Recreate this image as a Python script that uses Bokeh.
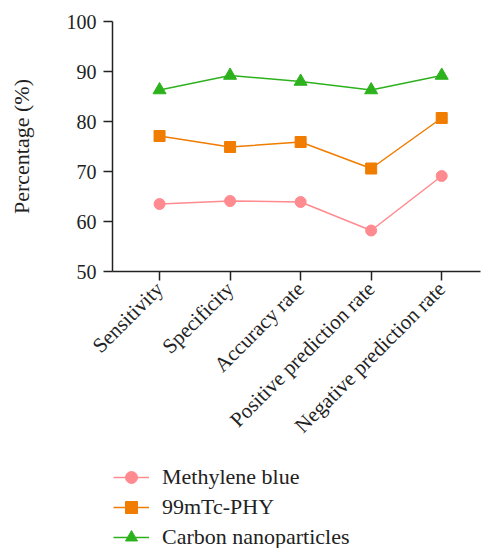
import math
from bokeh.plotting import figure
from bokeh.layouts import column
from bokeh.models import Range1d, FixedTicker, Legend, LegendItem
from bokeh.embed import file_html
from bokeh.resources import INLINE

categories = ["Sensitivity", "Specificity", "Accuracy rate",
              "Positive prediction rate", "Negative prediction rate"]
methylene_blue = [63.5, 64.1, 63.9, 58.2, 69.1]
tc99m_phy = [77.1, 74.9, 75.9, 70.6, 80.7]
carbon_nano = [86.3, 89.2, 88.0, 86.3, 89.2]
y_ticks = [50, 60, 70, 80, 90, 100]

xs = list(range(len(categories)))
FONT = "Liberation Serif"

p = figure(width=486, height=460, output_backend="svg", toolbar_location=None,
           x_range=Range1d(-0.667, 4.55), y_range=Range1d(50, 100),
           min_border_left=112, min_border_right=6, min_border_top=21,
           min_border_bottom=189)
p.outline_line_color = None
p.xgrid.visible = False
p.ygrid.visible = False
p.background_fill_color = None
p.border_fill_color = "white"

# legend strip below the chart (its copies of the series lie outside its view)
lg = figure(width=486, height=88, output_backend="svg", toolbar_location=None,
            x_range=Range1d(100, 101), y_range=Range1d(0, 1),
            x_axis_type=None, y_axis_type=None,
            min_border_left=0, min_border_right=0, min_border_top=0,
            min_border_bottom=0)
lg.outline_line_color = None
lg.xgrid.visible = False
lg.ygrid.visible = False
lg.background_fill_color = None
lg.border_fill_color = "white"

series = [
    ("Methylene blue", methylene_blue, "#ff8a8f", "circle", 11),
    ("99mTc-PHY", tc99m_phy, "#f07c00", "square", 11),
    ("Carbon nanoparticles", carbon_nano, "#2db21e", "triangle", 13),
]
items = []
for name, vals, col, mk, sz in series:
    p.line(xs, vals, line_color=col, line_width=1.5)
    p.scatter(xs, vals, marker=mk, size=sz, fill_color=col, line_color=col)
    l2 = lg.line(xs, vals, line_color=col, line_width=1.5)
    s2 = lg.scatter(xs, vals, marker=mk, size=sz, fill_color=col, line_color=col)
    items.append(LegendItem(label=name, renderers=[l2, s2]))

for ax in (p.xaxis[0], p.yaxis[0]):
    ax.axis_line_color = "#222222"
    ax.axis_line_width = 1.5
    ax.major_tick_line_color = "#222222"
    ax.major_tick_line_width = 1.5
    ax.major_tick_out = 9
    ax.major_tick_in = 0
    ax.minor_tick_line_color = None
    ax.major_label_text_font = FONT
    ax.major_label_text_color = "#222222"
    ax.major_label_text_font_size = "20px"

p.xaxis.ticker = FixedTicker(ticks=xs)
p.xaxis.major_label_overrides = {i: c for i, c in enumerate(categories)}
p.xaxis.major_label_orientation = math.pi / 4
p.xaxis.major_label_standoff = 5
p.xaxis.major_label_text_font_size = "21px"

p.yaxis.ticker = FixedTicker(ticks=y_ticks)
p.yaxis.major_label_standoff = 7
p.yaxis.axis_label = "Percentage (%)"
p.yaxis.axis_label_text_font = FONT
p.yaxis.axis_label_text_font_style = "normal"
p.yaxis.axis_label_text_font_size = "22px"
p.yaxis.axis_label_text_color = "#222222"
p.yaxis.axis_label_standoff = 30

legend = Legend(items=items, location=(1, -4))
legend.border_line_color = None
legend.background_fill_alpha = 0
legend.padding = 0
legend.margin = 0
legend.spacing = -4
legend.glyph_width = 36
legend.glyph_height = 30
legend.label_standoff = 13
legend.label_text_font = FONT
legend.label_text_font_size = "22px"
legend.label_text_color = "#222222"
legend.label_height = 20
lg.add_layout(legend, "center")

layout = column(p, lg, spacing=0)
open("out.html", "w").write(file_html(layout, INLINE))
